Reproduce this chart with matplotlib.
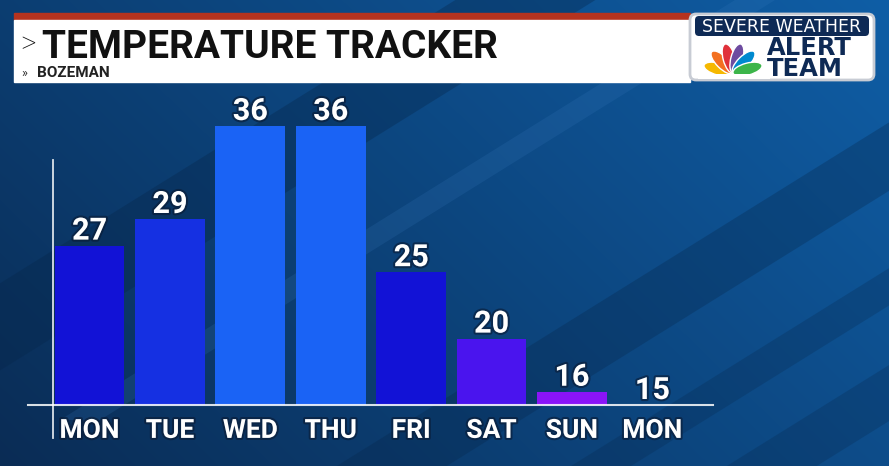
import numpy as np
import matplotlib
matplotlib.use("Agg")
import matplotlib.pyplot as plt
from matplotlib.patches import Rectangle, Polygon, FancyBboxPatch, Ellipse
import matplotlib.patheffects as pe

# data
days = ["MON", "TUE", "WED", "THU", "FRI", "SAT", "SUN", "MON"]
temps = [27, 29, 36, 36, 25, 20, 16, 15]
bar_colors = ["#1212d6", "#1530e2", "#1a63f5", "#1a63f5", "#1212d6", "#4a14ee", "#8a14f8", "#8a14f8"]
title = "TEMPERATURE TRACKER"
subtitle = "BOZEMAN"

plt.rcParams["font.family"] = ["Roboto", "DejaVu Sans"]

W, H = 889, 466
fig = plt.figure(figsize=(W / 100, H / 100), dpi=100)

# background in pixel coordinates
bg = fig.add_axes([0, 0, 1, 1])
bg.set_xlim(0, W)
bg.set_ylim(H, 0)
bg.axis("off")
yy, xx = np.mgrid[0:H, 0:W]
t = 0.65 * (xx / W) + 0.35 * (1 - yy / H)
c0 = np.array([0x0a, 0x2c, 0x55]) / 255
c1 = np.array([0x0f, 0x5e, 0xa6]) / 255
img = c0 + (c1 - c0) * np.clip(t, 0, 1)[..., None]
bg.imshow(img, extent=[0, W, H, 0], aspect="auto", zorder=0)

# diagonal stripes
def band(x0, y0, w, alpha, color="#06264a"):
    dx, dy = 900, -560
    pts = [(x0, y0), (x0 + dx, y0 + dy), (x0 + dx + w, y0 + dy), (x0 + w, y0)]
    bg.add_patch(Polygon(pts, closed=True, color=color, alpha=alpha, lw=0, zorder=1))

band(-300, 470, 140, 0.35)
band(250, 520, 110, 0.30)
band(420, 560, 60, 0.25)
band(60, 420, 40, 0.18, color="#3a7cc0")
band(640, 520, 90, 0.25)

# header banner
bg.add_patch(Rectangle((14, 13), 676, 7, color="#b5331f", zorder=2))
bg.add_patch(Rectangle((14, 20), 676, 62, color="white", zorder=2))
bg.text(20, 53, ">", fontsize=22, fontweight="light", color="#111111",
        va="baseline", zorder=3)
bg.text(42, 58, title, fontsize=28, fontweight="bold", color="#111111",
        va="baseline", zorder=3)
bg.text(21, 77, "\u00bb", fontsize=9, color="#333333", va="baseline", zorder=3)
bg.text(37, 77, subtitle, fontsize=11, fontweight="bold", color="#222222",
        va="baseline", zorder=3)

# logo
bg.add_patch(FancyBboxPatch((690, 14), 184, 66, boxstyle="round,pad=0,rounding_size=6",
                            fc="white", ec="#c8ccd4", lw=2, zorder=3))
bg.add_patch(FancyBboxPatch((695, 16), 174, 20, boxstyle="round,pad=0,rounding_size=4",
                            fc="#0e2a55", ec="none", zorder=4))
bg.text(782, 26.5, "SEVERE WEATHER", fontsize=12.5, color="white", family="DejaVu Sans",
        ha="center", va="center", zorder=5)
feathers = ["#f5b800", "#f37021", "#e0313a", "#6d4ba0", "#0089cf", "#3cb54a"]
cx, cy = 733, 73
for i, col in enumerate(feathers):
    ang = 165 - i * 30
    r = 15
    ex = cx + r * np.cos(np.radians(ang))
    ey = cy - r * np.sin(np.radians(ang))
    bg.add_patch(Ellipse((ex, ey), 30, 12, angle=-ang, fc=col, ec="white", lw=1, zorder=5))
bg.add_patch(Rectangle((698, 74), 72, 5, fc="white", ec="none", zorder=6))
bg.text(767, 76, "ALERT\nTEAM", fontsize=17.5, fontweight="bold", color="#0e2a55",
        family="DejaVu Sans", ha="left", va="baseline", linespacing=0.86, zorder=5)

# vertical axis line
bg.plot([53, 53], [160, 438], color="white", lw=1.3, alpha=0.85, zorder=2)

# chart axes
ax = fig.add_axes([28 / W, (H - 405) / H, 685 / W, 279 / H])
ax.patch.set_alpha(0)
ax.set_ylim(15, 36)
ax.set_xlim(-0.765, 7.755)
x = np.arange(len(days))
bars = ax.bar(x, np.array(temps) - 15, bottom=15, width=0.87, color=bar_colors, zorder=2)
ax.axhline(15, color="white", lw=1.5, alpha=0.85, zorder=3, clip_on=False)
for s in ax.spines.values():
    s.set_visible(False)
ax.set_yticks([])
ax.set_xticks(x)
ax.set_xticklabels(days)
ax.tick_params(axis="x", length=0, pad=10, labelsize=19, labelcolor="white")
shadow = [pe.withStroke(linewidth=3, foreground="#0a1a33", alpha=0.6)]
for lab in ax.get_xticklabels():
    lab.set_fontweight("bold")
    lab.set_path_effects(shadow)
for xi, v in zip(x, temps):
    ax.annotate(str(v), (xi, v), xytext=(0, 0), textcoords="offset points",
                ha="center", va="bottom", fontsize=22, fontweight="bold",
                color="white", path_effects=shadow, zorder=4)

fig.savefig("out.png", dpi=100)
